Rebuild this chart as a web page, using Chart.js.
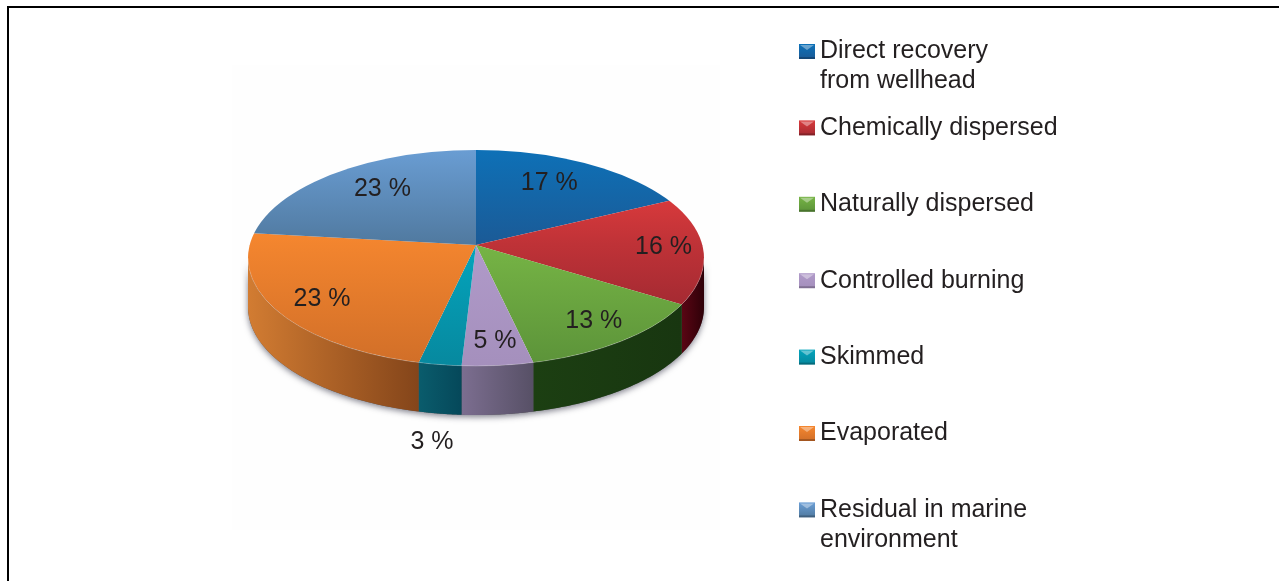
<!DOCTYPE html>
<html lang="en">

<head>
    <meta charset="UTF-8">
    <title>Oil budget</title>
    <script src="https://cdn.jsdelivr.net/npm/chart.js"></script>
    <style>
        html, body { margin: 0; padding: 0; background: #fff; overflow: hidden; }
        canvas { display: block; }
    </style>
</head>

<body>
    <canvas id="pizza" width="1279" height="581"></canvas>
</body>

<script>
    // values
    const categorias = [
        ['Direct recovery', 'from wellhead'],
        ['Chemically dispersed'],
        ['Naturally dispersed'],
        ['Controlled burning'],
        ['Skimmed'],
        ['Evaporated'],
        ['Residual in marine', 'environment']
    ];
    const valores = [17, 16, 13, 5, 3, 23, 23];

    // top face colours (upper and lower end of the shading)
    const corClara = ['#0d72b9', '#d93a3c', '#76b445', '#b09ac9', '#04a4bc', '#f6872f', '#6b9fd6'];
    const corEscura = ['#1b5a96', '#a42a32', '#5b9239', '#a48fbc', '#07879d', '#d06e28', '#50799f'];
    // side wall colours (left and right end)
    const paredeEsq = ['#0b3c66', '#5a0614', '#1c3f12', '#7c6e90', '#0a5c6c', '#d27c32', '#33506c'];
    const paredeDir = ['#0b3c66', '#2e0008', '#183610', '#575066', '#05485a', '#84451a', '#33506c'];
    // nudge of each % label from its slice middle
    const ajusteRotulo = [[-8, -5], [28, 2], [20, 10], [4, 12], [-19, 114], [-22, 7], [12, -6]];

    // the apex sits above the middle of the ellipse, like the perspective of the original
    const escalaCima = 95 / 228;
    const escalaBaixo = 120 / 228;
    const folga = 1.06;
    const desvioElipse = 13;
    const raioYElipse = 108;
    const profundidade = 49;
    const corTexto = '#231f20';

    function corSlice(context) {
        const chart = context.chart;
        const area = chart.chartArea;
        if (!area) return corClara[context.dataIndex];
        const i = context.dataIndex;
        const cy = (area.top + area.bottom) / 2;
        const r = (area.right - area.left) / 2;
        const total = valores.reduce((a, b) => a + b, 0);
        let acum = 0;
        for (let k = 0; k < i; k++) acum += valores[k];
        let min = 0, max = 0;
        for (let p = 0; p <= 20; p++) {
            const a = (acum + valores[i] * p / 20) / total * 2 * Math.PI;
            min = Math.min(min, -Math.cos(a));
            max = Math.max(max, -Math.cos(a));
        }
        const g = chart.ctx.createLinearGradient(0, cy + min * r, 0, cy + max * r);
        g.addColorStop(0, corClara[i]);
        g.addColorStop(1, corEscura[i]);
        return g;
    }

    // where a slice edge (chart angle) meets the rim ellipse, as an ellipse angle
    function anguloNaElipse(a, r) {
        const dx = Math.cos(a);
        const s = Math.sin(a) < 0 ? escalaCima : escalaBaixo;
        const dy = Math.sin(a) * s * r / raioYElipse;
        const y0 = -desvioElipse / raioYElipse;
        const qa = dx * dx + dy * dy;
        const qb = 2 * dy * y0;
        const qc = y0 * y0 - 1;
        const t = (-qb + Math.sqrt(qb * qb - 4 * qa * qc)) / (2 * qa);
        let res = Math.atan2(y0 + dy * t, dx * t);
        if (a > Math.PI / 2 && res < 0) res += 2 * Math.PI;
        return res;
    }

    function caminhoParede(ctx, cx, cy, r, a0, a1) {
        const ce = cy + desvioElipse;
        ctx.beginPath();
        for (let p = 0; p <= 60; p++) {
            const a = a0 + (a1 - a0) * p / 60;
            const x = cx + r * Math.cos(a), y = ce + raioYElipse * Math.sin(a);
            if (p === 0) ctx.moveTo(x, y); else ctx.lineTo(x, y);
        }
        for (let p = 60; p >= 0; p--) {
            const a = a0 + (a1 - a0) * p / 60;
            ctx.lineTo(cx + r * Math.cos(a), ce + raioYElipse * Math.sin(a) + profundidade);
        }
        ctx.closePath();
    }

    function desenharMarcador(ctx, x, y, i) {
        const w = 16, h = 15;
        const g = ctx.createLinearGradient(0, y, 0, y + h);
        g.addColorStop(0, corClara[i]);
        g.addColorStop(1, corEscura[i]);
        ctx.fillStyle = g;
        ctx.fillRect(x, y, w, h);
        ctx.fillStyle = 'rgba(255,255,255,0.38)';
        ctx.beginPath();
        ctx.moveTo(x + 1, y + 1);
        ctx.lineTo(x + w - 1, y + 1);
        ctx.lineTo(x + w / 2, y + 6);
        ctx.closePath();
        ctx.fill();
        ctx.fillStyle = 'rgba(0,0,0,0.22)';
        ctx.fillRect(x, y + h - 2, w, 2);
    }

    const pizza3d = {
        id: 'pizza3d',
        beforeDraw(chart) {
            const ctx = chart.ctx;
            ctx.save();
            ctx.fillStyle = '#fff';
            ctx.fillRect(0, 0, chart.width, chart.height);
            // faint backdrop of the pasted picture
            ctx.fillStyle = '#fefefe';
            ctx.fillRect(232, 65, 488, 465);
            // frame, top and left only
            ctx.fillStyle = '#000';
            ctx.fillRect(7, 6, chart.width - 7, 2);
            ctx.fillRect(7, 6, 2, chart.height - 6);
            ctx.restore();
        },
        beforeDatasetDraw(chart, args) {
            const ctx = chart.ctx;
            const arcos = args.meta.data;
            const cx = arcos[0].x, cy = arcos[0].y, r = arcos[0].outerRadius;
            const ce = cy + desvioElipse;

            // shadow under the wall
            ctx.save();
            ctx.shadowColor = 'rgba(40,40,60,0.6)';
            ctx.shadowBlur = 6;
            ctx.shadowOffsetY = 2;
            ctx.fillStyle = '#555';
            caminhoParede(ctx, cx, cy, r, 0, Math.PI);
            ctx.fill();
            ctx.restore();

            // side wall, only the front part of each slice
            arcos.forEach((arco, i) => {
                const a0 = Math.max(anguloNaElipse(arco.startAngle, r), 0);
                const a1 = Math.min(anguloNaElipse(arco.endAngle, r), Math.PI);
                if (a1 <= a0) return;
                const x0 = cx + r * Math.cos(a1), x1 = cx + r * Math.cos(a0);
                const g = ctx.createLinearGradient(x0, 0, x1, 0);
                g.addColorStop(0, paredeEsq[i]);
                g.addColorStop(1, paredeDir[i]);
                ctx.save();
                ctx.fillStyle = g;
                caminhoParede(ctx, cx, cy, r, a0, a1);
                ctx.fill();
                ctx.restore();
            });

            // top face in two halves around the apex, cut by the rim ellipse
            ctx.save();
            ctx.beginPath();
            ctx.ellipse(cx, ce, r, raioYElipse, 0, 0, 2 * Math.PI);
            ctx.clip();
            [[escalaCima, 0, cy + 0.5], [escalaBaixo, cy, chart.height - cy]].forEach(([s, top, alt]) => {
                ctx.save();
                ctx.beginPath();
                ctx.rect(0, top, chart.width, alt);
                ctx.clip();
                ctx.translate(cx, cy);
                ctx.scale(folga, s * folga);
                ctx.translate(-cx, -cy);
                arcos.forEach(arco => arco.draw(ctx));
                ctx.restore();
            });
            ctx.restore();

            // soft light line on the front edge
            ctx.save();
            ctx.strokeStyle = 'rgba(255,255,255,0.22)';
            ctx.lineWidth = 1;
            ctx.beginPath();
            ctx.ellipse(cx, ce, r, raioYElipse, 0, 0, Math.PI);
            ctx.stroke();
            ctx.restore();

            return false;
        },
        afterDatasetsDraw(chart) {
            const ctx = chart.ctx;
            const arcos = chart.getDatasetMeta(0).data;
            ctx.save();
            ctx.fillStyle = corTexto;
            ctx.textBaseline = 'middle';

            // % labels
            ctx.font = '25px "Liberation Sans"';
            ctx.textAlign = 'center';
            arcos.forEach((arco, i) => {
                const m = (arco.startAngle + arco.endAngle) / 2;
                const sen = Math.sin(m);
                const s = sen < 0 ? escalaCima : escalaBaixo;
                const x = arco.x + 0.7 * arco.outerRadius * Math.cos(m);
                const y = arco.y + 0.7 * arco.outerRadius * s * sen;
                ctx.fillText(valores[i] + ' %', x + ajusteRotulo[i][0], y + ajusteRotulo[i][1]);
            });

            // legend
            ctx.textAlign = 'left';
            categorias.forEach((linhas, i) => {
                const y = 51.5 + i * 76.4;
                desenharMarcador(ctx, 799, y - 7.5, i);
                ctx.fillStyle = corTexto;
                linhas.forEach((linha, k) => ctx.fillText(linha, 820, y + k * 30));
            });
            ctx.restore();
        }
    };

    new Chart(document.getElementById('pizza'), {
        type: 'pie',
        data: {
            labels: categorias.map(c => c.join(' ')),
            datasets: [{
                data: valores,
                backgroundColor: corSlice,
                borderWidth: 0
            }]
        },
        options: {
            responsive: false,
            animation: false,
            layout: {
                padding: { left: 248, right: 575, top: 17, bottom: 108 }
            },
            plugins: {
                legend: { display: false },
                tooltip: { enabled: false }
            }
        },
        plugins: [pizza3d]
    });
</script>

</html>
